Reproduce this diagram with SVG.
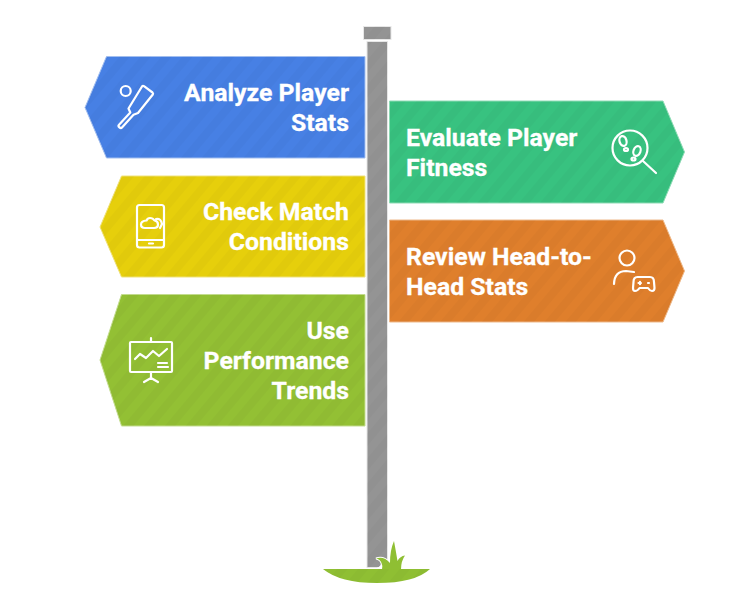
<svg xmlns="http://www.w3.org/2000/svg" width="753" height="601" viewBox="0 0 753 601">
<style>
text{font-family:Roboto,"Liberation Sans",sans-serif;font-weight:700;font-size:24.8px;fill:#fff;stroke:#fff;stroke-width:.3}
.e{text-anchor:end}
.sign{stroke-width:1}
.ic{fill:none;stroke:#fff;stroke-width:2.2;stroke-linecap:round;stroke-linejoin:round}
</style>
<defs>
<pattern id="st" width="16" height="16" patternUnits="userSpaceOnUse" patternTransform="rotate(40)"><rect width="8" height="16" fill="#000" fill-opacity=".025"/></pattern>
</defs>
<g id="pole">
<rect x="367" y="41.500" width="20.500" height="526" fill="#949494" stroke="#e8e8e8" stroke-width="1"/>
<rect x="367" y="41.500" width="20.500" height="526" fill="url(#st)"/>
<rect x="363.500" y="26.500" width="27.500" height="13" fill="#949494" stroke="#e8e8e8"/>
<rect x="363.500" y="26.500" width="27.500" height="13" fill="url(#st)"/>
</g>
<g id="grass">
<path d="M377 569Q383 566 381.500 563Q380 559 376 558.500Q384 556 390 563Q390 550 394 541Q396 552 397.500 561Q400 556 405 555.500Q401 561 401 569Z" fill="#fff" stroke="#fff" stroke-width="2"/>
<path d="M323 569H430Q415 583 377 583Q340 583 323 569Z" fill="#8fbf33"/>
<path d="M382 569.500Q383 566 381.500 563Q380 559 376 558.500Q384 556 390 563Q390 550 394 541Q396 552 397.500 561Q400 556 405 555.500Q401 561 401 569.500Z" fill="#8fbf33"/>
<path d="M323 569H430Q415 583 377 583Q340 583 323 569Z" fill="url(#st)"/>
</g>
<g id="analyze">
<path class="sign" d="M106.500 56.500H365V158H106.500L85 107.500Z" fill="#4780e4" stroke="#a3bff0"/>
<path d="M106.500 56.500H365V158H106.500L85 107.500Z" fill="url(#st)"/>
<circle class="ic" cx="125.700" cy="91" r="5"/>
<path class="ic" d="M142 86.500Q142.800 85.500 144 86.200L152.500 92.500Q153.500 93.500 152.800 94.500L138 113L133.500 114.800L122 127.500Q121 128.500 119.500 127.500Q117.800 126 118.800 125L130.300 112.500L128.500 108.500Z"/>
<text class="e" x="349" y="101">Analyze Player</text>
<text class="e" x="349" y="131">Stats</text>
</g>
<g id="evaluate">
<path class="sign" d="M389.500 101H663L684.500 152L663 203H389.500Z" fill="#38c280" stroke="#8fdcb6"/>
<path d="M389.500 101H663L684.500 152L663 203H389.500Z" fill="url(#st)"/>
<circle class="ic" cx="630" cy="148" r="17.500"/>
<path class="ic" d="M643 161L656 173"/>
<ellipse class="ic" cx="623" cy="141" rx="3.500" ry="5" transform="rotate(-15 623 141)"/>
<ellipse class="ic" cx="626" cy="149.500" rx="2" ry="1.500"/>
<ellipse class="ic" cx="637" cy="151" rx="3.500" ry="5" transform="rotate(20 637 151)"/>
<ellipse class="ic" cx="633.500" cy="159" rx="2" ry="1.500"/>
<text x="406" y="146">Evaluate Player</text>
<text x="406" y="176">Fitness</text>
</g>
<g id="check">
<path class="sign" d="M121.500 176H365V277H121.500L100 227Z" fill="#e6cf0c" stroke="#f0e27a"/>
<path d="M121.500 176H365V277H121.500L100 227Z" fill="url(#st)"/>
<rect class="ic" x="137" y="205" width="27" height="42.500" rx="2.500"/>
<path class="ic" d="M137 240H164M149 243.500H153"/>
<path class="ic" d="M145 228H154Q158 228 158 224.500Q158 221 154.500 220.500Q153 218 150 218Q147.500 218 146.500 220.500Q141 221 141 224.500Q141 228 145 228Z"/>
<path class="ic" d="M156 219Q161 218 162 224L160 228"/>
<text class="e" x="349" y="220">Check Match</text>
<text class="e" x="349" y="250">Conditions</text>
</g>
<g id="review">
<path class="sign" d="M389.500 220H663L684.500 271L663 322H389.500Z" fill="#df7f2c" stroke="#eeb98a"/>
<path d="M389.500 220H663L684.500 271L663 322H389.500Z" fill="url(#st)"/>
<circle class="ic" cx="627" cy="258" r="7.500"/>
<path class="ic" d="M614 284Q614.500 271 626 271L634 272"/>
<path class="ic" d="M637.500 277H650Q654 277 654 282L654.500 288Q654.500 291 652 291Q650 291 648 288H639.500Q637.500 291 635 291Q633 291 633 288L633.500 282Q633.500 277 637.500 277Z"/>
<path class="ic" d="M638.500 283H641M640 281.800V284.200M648 283H649"/>
<text x="406" y="265">Review Head-to-</text>
<text x="406" y="295">Head Stats</text>
</g>
<g id="trends">
<path class="sign" d="M121.500 294.500H365V426H121.500L100 360Z" fill="#93c034" stroke="#c4dd8f"/>
<path d="M121.500 294.500H365V426H121.500L100 360Z" fill="url(#st)"/>
<rect class="ic" x="130" y="342" width="42" height="30" rx="1"/>
<path class="ic" d="M151 338V342M151 372V379M144 382L151 378L158 382"/>
<path class="ic" d="M135 359L140 354L146 358L153 351L159 356L167 349"/>
<path class="ic" d="M158 363H167M158 367H168"/>
<text class="e" x="349" y="339">Use</text>
<text class="e" x="349" y="369">Performance</text>
<text class="e" x="349" y="399">Trends</text>
</g>
<g id="connectors"/>
</svg>
